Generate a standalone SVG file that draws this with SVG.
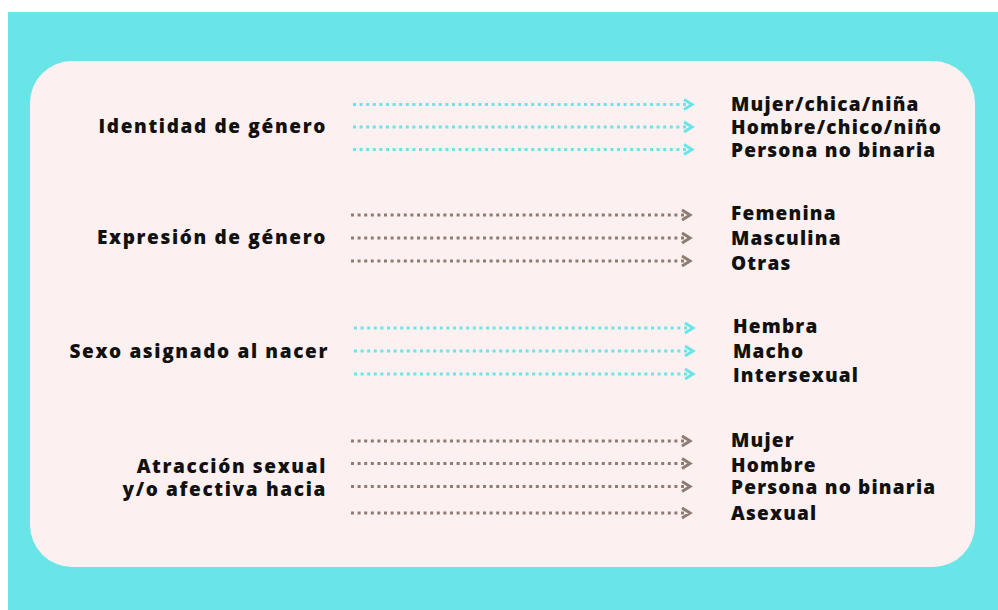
<svg xmlns="http://www.w3.org/2000/svg" width="998" height="610" viewBox="0 0 998 610">
<defs>
<style>
.t{font-family:"Open Sans","Liberation Sans",sans-serif;font-weight:800;font-size:19px;fill:#111;letter-spacing:1.2px}
.l{text-anchor:end;letter-spacing:1.65px}
.dc{stroke:#69E5E8;stroke-width:3;stroke-dasharray:3 3.6;fill:none}
.db{stroke:#8E7C72;stroke-width:3;stroke-dasharray:3 3.6;fill:none}
.hc{stroke:#69E5E8;stroke-width:3;fill:none;stroke-linejoin:miter}
.hb{stroke:#8E7C72;stroke-width:3;fill:none;stroke-linejoin:miter}
</style>
</defs>
<rect x="0" y="0" width="998" height="610" fill="#fff"/>
<rect x="8" y="12" width="990" height="598" fill="#69E5E8"/>
<rect x="30" y="61" width="945" height="506" rx="42" fill="#FCF0F0"/>

<g id="connectors">
<path class="dc" d="M353 104.5H688M353 127H688M353 149.5H688"/>
<path class="hc" d="M684 99.5L692 104.5L684 109.5M684 122L692 127L684 132M684 144.5L692 149.5L684 154.5"/>
<path class="db" d="M351 215H686M351 238H686M351 261H686"/>
<path class="hb" d="M682 210L690 215L682 220M682 233L690 238L682 243M682 256L690 261L682 266"/>
<path class="dc" d="M354 328H689M354 351H689M354 374H689"/>
<path class="hc" d="M685 323L693 328L685 333M685 346L693 351L685 356M685 369L693 374L685 379"/>
<path class="db" d="M351 441H686M351 463.5H686M351 486.5H686M351 513H686"/>
<path class="hb" d="M682 436L690 441L682 446M682 458.5L690 463.5L682 468.5M682 481.5L690 486.5L682 491.5M682 508L690 513L682 518"/>
</g>

<g id="n1"><text class="t l" x="327" y="133">Identidad de género</text></g>
<g id="n2"><text class="t l" x="327" y="244">Expresión de género</text></g>
<g id="n3"><text class="t l" x="329" y="358">Sexo asignado al nacer</text></g>
<g id="n4"><text class="t l" x="327" y="473">Atracción sexual</text><text class="t l" x="327" y="496">y/o afectiva hacia</text></g>

<g id="o1">
<text class="t" x="731" y="111">Mujer/chica/niña</text>
<text class="t" x="731" y="134">Hombre/chico/niño</text>
<text class="t" x="731" y="157">Persona no binaria</text>
</g>
<g id="o2">
<text class="t" x="731" y="220">Femenina</text>
<text class="t" x="731" y="245">Masculina</text>
<text class="t" x="731" y="270">Otras</text>
</g>
<g id="o3">
<text class="t" x="733" y="333">Hembra</text>
<text class="t" x="733" y="358">Macho</text>
<text class="t" x="733" y="382">Intersexual</text>
</g>
<g id="o4">
<text class="t" x="731" y="447">Mujer</text>
<text class="t" x="731" y="472">Hombre</text>
<text class="t" x="731" y="494">Persona no binaria</text>
<text class="t" x="731" y="520">Asexual</text>
</g>
</svg>
